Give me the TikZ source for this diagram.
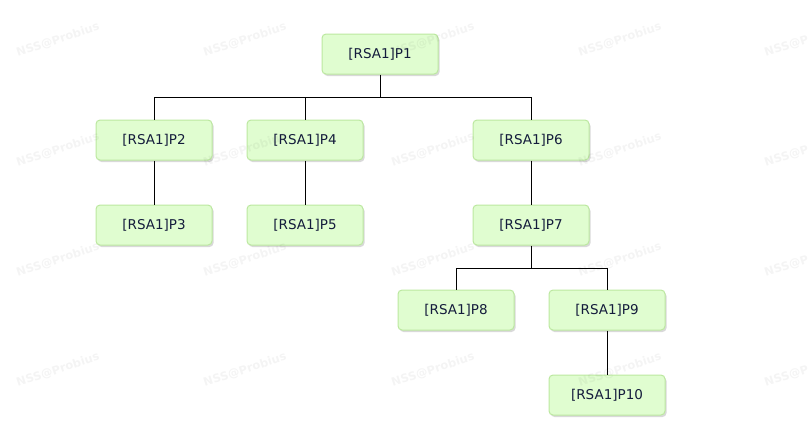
\documentclass[tikz,border=0pt]{standalone}
\usepackage{fontspec}
\setmainfont{DejaVu Sans}
\usetikzlibrary{shadows}
\definecolor{boxfill}{RGB}{224,253,208}
\definecolor{boxline}{RGB}{188,232,160}
\definecolor{boxtext}{RGB}{20,28,60}
\begin{document}
\begin{tikzpicture}[x=1pt,y=-1pt,
  nodebox/.style={draw=boxline, line width=1pt, fill=boxfill, rounded corners=4pt,
    minimum width=116pt, minimum height=40pt, inner sep=0pt,
    font=\fontsize{13.5}{16}\selectfont, text=boxtext,
    drop shadow={shadow xshift=1.5pt, shadow yshift=-2pt, opacity=0.25, fill=black!60}},
  conn/.style={draw=black, line width=1pt},
  wm/.style={text=black, text opacity=0.045, rotate=18, font=\fontsize{11.5}{13}\selectfont\bfseries}]
\useasboundingbox (0,0) rectangle (808,440);
% nodes
\node[nodebox] (p1) at (380,54) {[RSA1]P1};
\node[nodebox] (p2) at (154,140) {[RSA1]P2};
\node[nodebox] (p4) at (305,140) {[RSA1]P4};
\node[nodebox] (p6) at (531,140) {[RSA1]P6};
\node[nodebox] (p3) at (154,225) {[RSA1]P3};
\node[nodebox] (p5) at (305,225) {[RSA1]P5};
\node[nodebox] (p7) at (531,225) {[RSA1]P7};
\node[nodebox] (p8) at (456,310) {[RSA1]P8};
\node[nodebox] (p9) at (607,310) {[RSA1]P9};
\node[nodebox] (p10) at (607,395) {[RSA1]P10};
% connectors
\coordinate (b1) at (380,97);
\coordinate (b7) at (531,268);
\draw[conn] (p1.south) -- (b1);
\draw[conn] (b1) -| (p2.north);
\draw[conn] (b1) -| (p4.north);
\draw[conn] (b1) -| (p6.north);
\draw[conn] (p2) -- (p3);
\draw[conn] (p4) -- (p5);
\draw[conn] (p6) -- (p7);
\draw[conn] (p7.south) -- (b7);
\draw[conn] (b7) -| (p8.north);
\draw[conn] (b7) -| (p9.north);
\draw[conn] (p9) -- (p10);
% watermarks (drawn faintly over everything)
\foreach \yy in {40,150,260,370}{
  \foreach \xx in {58,245,433,620,806}{
    \node[wm] at (\xx,\yy) {NSS@Probius};
  }
}
\end{tikzpicture}
\end{document}
